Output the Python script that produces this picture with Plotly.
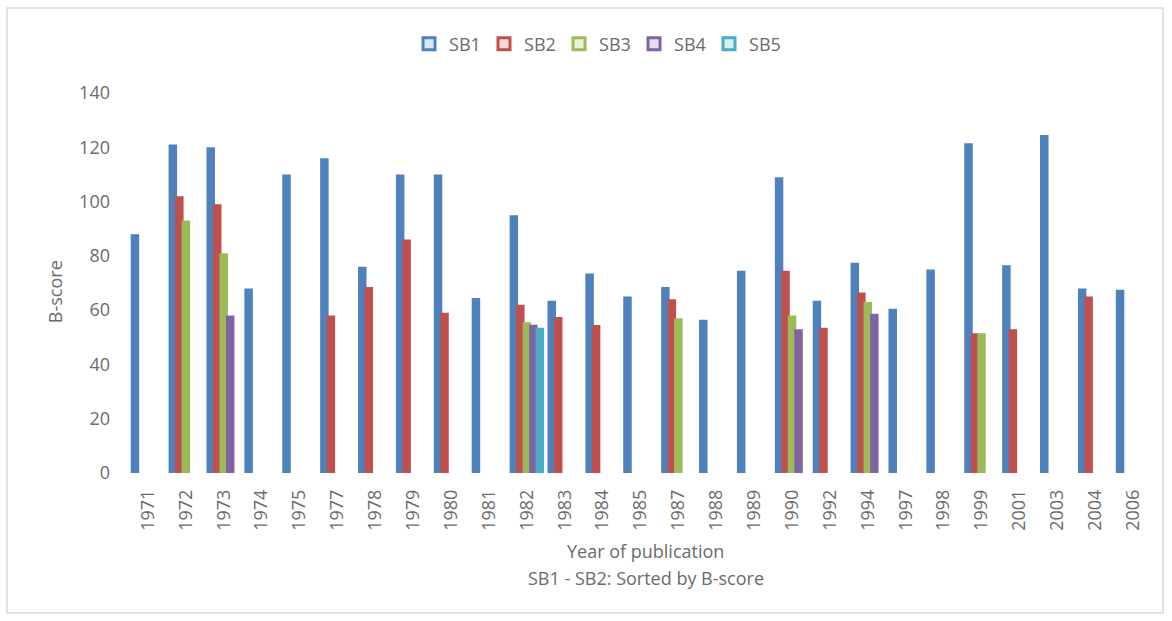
import plotly.graph_objects as go

years = ['1971', '1972', '1973', '1974', '1975', '1977', '1978', '1979', '1980', '1981',
         '1982', '1983', '1984', '1985', '1987', '1988', '1989', '1990', '1992', '1994',
         '1997', '1998', '1999', '2001', '2003', '2004', '2006']

sb1 = [88, 121, 120, 68, 110, 116, 76, 110, 110, 64.5,
       95, 63.5, 73.5, 65, 68.5, 56.5, 74.5, 109, 63.5, 77.5,
       60.5, 75, 121.5, 76.5, 124.5, 68, 67.5]
sb2 = [None, 102, 99, None, None, 58, 68.5, 86, 59, None,
       62, 57.5, 54.5, None, 64, None, None, 74.5, 53.5, 66.5,
       None, None, 51.5, 53, None, 65, None]
sb3 = [None, 93, 81, None, None, None, None, None, None, None,
       55.5, None, None, None, 57, None, None, 58, None, 63,
       None, None, 51.5, None, None, None, None]
sb4 = [None, None, 58, None, None, None, None, None, None, None,
       54.6, None, None, None, None, None, None, 53, None, 58.7,
       None, None, None, None, None, None, None]
sb5 = [None, None, None, None, None, None, None, None, None, None,
       53.5, None, None, None, None, None, None, None, None, None,
       None, None, None, None, None, None, None]

names = ['SB1', 'SB2', 'SB3', 'SB4', 'SB5']
series = [sb1, sb2, sb3, sb4, sb5]
colors = ['#4F81BD', '#C0504D', '#9BBB59', '#8064A2', '#4BACC6']
light = ['#dbe9f7', '#f6d6d5', '#e9f2d8', '#e4dced', '#d6f0f7']

step = 0.1715
bw = 0.224
start = -(4 * step + bw) / 2

fig = go.Figure()
for i, (n, vals, c) in enumerate(zip(names, series, colors)):
    fig.add_trace(go.Bar(x=years, y=vals, name=n, marker=dict(color=c, line=dict(width=0)),
                         offset=start + i * step, width=bw, showlegend=False))
for n, c, lc in zip(names, colors, light):
    fig.add_trace(go.Scatter(x=[None], y=[None], mode='markers', name=n,
                             marker=dict(symbol='square', size=12, color=lc,
                                         line=dict(color=c, width=3))))

txt = '#6b6b6b'
fnt = 'Open Sans, Arial, sans-serif'

fig.update_layout(
    width=1172, height=621,
    barmode='overlay',
    paper_bgcolor='white', plot_bgcolor='white',
    margin=dict(l=129, r=20, t=93, b=148),
    font=dict(family=fnt, size=18, color=txt),
    showlegend=True,
    legend=dict(orientation='h', x=0.457, xanchor='center', y=1.129, yanchor='middle',
                font=dict(size=18, color=txt), itemwidth=30,
                entrywidth=30, entrywidthmode='pixels', bgcolor='rgba(0,0,0,0)'),
    xaxis=dict(type='category', range=[-0.5, 26.5], tickangle=-90, showgrid=False,
               showline=False, zeroline=False, ticks='', ticklabelstandoff=12,
               tickfont=dict(size=18, color=txt)),
    yaxis=dict(range=[0, 140], dtick=20, showgrid=False, showline=False, zeroline=False,
               ticks='', ticklabelstandoff=18, tickfont=dict(size=18, color=txt)),
    annotations=[
        dict(text='B-score', x=-0.0723, y=0.476, xref='paper', yref='paper', textangle=-90,
             showarrow=False, font=dict(size=18, color=txt), xanchor='center', yanchor='middle'),
        dict(text='Year of publication', x=0.505, y=-0.205, xref='paper', yref='paper',
             showarrow=False, font=dict(size=18, color=txt), xanchor='center', yanchor='middle'),
        dict(text='SB1 - SB2: Sorted by B-score', x=0.505, y=-0.276, xref='paper', yref='paper',
             showarrow=False, font=dict(size=18, color=txt), xanchor='center', yanchor='middle'),
    ],
    shapes=[dict(type='rect', xref='paper', yref='paper',
                 x0=(7 - 129) / 1023, x1=(1163 - 129) / 1023,
                 y0=(473 - 613) / 380, y1=(473 - 8) / 380,
                 line=dict(color='#d9d9d9', width=1.5), fillcolor='rgba(0,0,0,0)', layer='below')],
)

fig.write_html('out.html')
